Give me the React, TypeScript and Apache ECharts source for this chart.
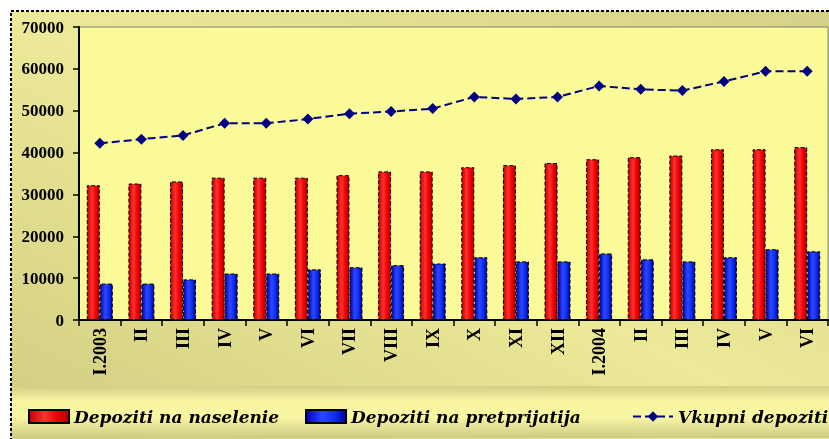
import React, { useEffect, useRef } from "react";
import * as echarts from "echarts";

const categories = ["I.2003", "II", "III", "IV", "V", "VI", "VII", "VIII", "IX", "X", "XI", "XII", "I.2004", "II", "III", "IV", "V", "VI"];
const naselenie = [32200, 32600, 33100, 34000, 34000, 34000, 34600, 35500, 35500, 36500, 37000, 37500, 38400, 38900, 39300, 40800, 40800, 41300];
const pretprijatija = [8700, 8700, 9700, 11100, 11100, 12100, 12600, 13100, 13500, 15000, 14000, 14000, 15900, 14500, 14000, 15000, 16900, 16400];
const vkupni = [42200, 43200, 44100, 47000, 47000, 48000, 49300, 49800, 50500, 53300, 52800, 53300, 55900, 55100, 54800, 57000, 59400, 59400];
const seriesNames = ["Depoziti na naselenie", "Depoziti na pretprijatija", "Vkupni depoziti"];

const serif = "'Liberation Serif', 'Times New Roman', serif";
const legendFont = "'DejaVu Serif', serif";

export default function App() {
  const ref = useRef<HTMLDivElement>(null);
  useEffect(() => {
    if (!ref.current) return;
    const chart = echarts.init(ref.current, null, { renderer: "svg" });
    const redGrad = new echarts.graphic.LinearGradient(0, 0, 1, 0, [
      { offset: 0, color: "#c80000" },
      { offset: 0.4, color: "#ff3030" },
      { offset: 0.7, color: "#f00000" },
      { offset: 1, color: "#b00000" },
    ]);
    const blueGrad = new echarts.graphic.LinearGradient(0, 0, 1, 0, [
      { offset: 0, color: "#0000b8" },
      { offset: 0.4, color: "#2a48ff" },
      { offset: 0.7, color: "#1030f0" },
      { offset: 1, color: "#0000a0" },
    ]);
    const legendText = {
      fontFamily: legendFont,
      fontWeight: "bold",
      fontStyle: "italic",
      fontSize: 17,
      color: "#000",
    };
    chart.setOption({
      animation: false,
      graphic: [
        {
          type: "rect",
          z: -10,
          shape: { x: 11, y: 11, width: 840, height: 440 },
          style: {
            fill: new echarts.graphic.LinearGradient(0, 1, 1, 0, [
              { offset: 0, color: "#cfcb80" },
              { offset: 0.5, color: "#ecea98" },
              { offset: 1, color: "#d4d088" },
            ]),
            stroke: "#000",
            lineWidth: 2,
            lineDash: [3, 2],
          },
        },
        {
          type: "rect",
          z: -9,
          shape: { x: 12, y: 386, width: 840, height: 52 },
          style: {
            fill: new echarts.graphic.LinearGradient(0, 0, 0, 1, [
              { offset: 0, color: "#d2ce84" },
              { offset: 0.3, color: "#f8f6a2" },
              { offset: 0.6, color: "#f8f6a2" },
              { offset: 1, color: "#cccb84" },
            ]),
          },
        },
      ],
      grid: {
        left: 79,
        top: 27,
        right: 1,
        bottom: 119,
        show: true,
        backgroundColor: "#fafa98",
        borderColor: "#808080",
        borderWidth: 1,
      },
      legend: [
        {
          data: [{ name: seriesNames[0], icon: "rect" }],
          left: 23,
          top: 403,
          itemWidth: 40,
          itemHeight: 13,
          textStyle: legendText,
        },
        {
          data: [{ name: seriesNames[1], icon: "rect" }],
          left: 300,
          top: 403,
          itemWidth: 40,
          itemHeight: 13,
          textStyle: legendText,
        },
        {
          data: [seriesNames[2]],
          left: 627,
          top: 403,
          itemWidth: 40,
          itemHeight: 13,
          textStyle: legendText,
        },
      ],
      xAxis: {
        type: "category",
        data: categories,
        axisLine: { lineStyle: { color: "#000", width: 2 } },
        axisTick: { show: true, length: 6, lineStyle: { color: "#000", width: 1.5 } },
        axisLabel: {
          rotate: 90,
          margin: 8,
          fontFamily: serif,
          fontWeight: "bold",
          fontSize: 18,
          color: "#000",
          interval: 0,
        },
      },
      yAxis: {
        type: "value",
        min: 0,
        max: 70000,
        interval: 10000,
        axisLine: { show: true, lineStyle: { color: "#000", width: 2 } },
        axisTick: { show: true, length: 6, lineStyle: { color: "#000", width: 1.5 } },
        splitLine: { show: false },
        axisLabel: {
          margin: 15,
          fontFamily: serif,
          fontWeight: "bold",
          fontSize: 17,
          color: "#000",
          formatter: (v: number) => String(v),
        },
      },
      series: [
        {
          name: seriesNames[0],
          type: "bar",
          data: naselenie,
          barWidth: 13,
          barGap: "0%",
          itemStyle: { color: redGrad, borderColor: "#000", borderWidth: 1, borderType: "dashed" },
        },
        {
          name: seriesNames[1],
          type: "bar",
          data: pretprijatija,
          barWidth: 13,
          barGap: "0%",
          itemStyle: { color: blueGrad, borderColor: "#000", borderWidth: 1, borderType: "dashed" },
        },
        {
          name: seriesNames[2],
          type: "line",
          data: vkupni,
          symbol: "diamond",
          symbolSize: 11,
          itemStyle: { color: "#000080" },
          lineStyle: { color: "#000080", width: 2, type: "dashed" },
        },
      ],
    });
    return () => chart.dispose();
  }, []);
  return (
    <div
      ref={ref}
      style={{ position: "fixed", left: 0, top: 0, width: 829, height: 439 }}
    />
  );
}
